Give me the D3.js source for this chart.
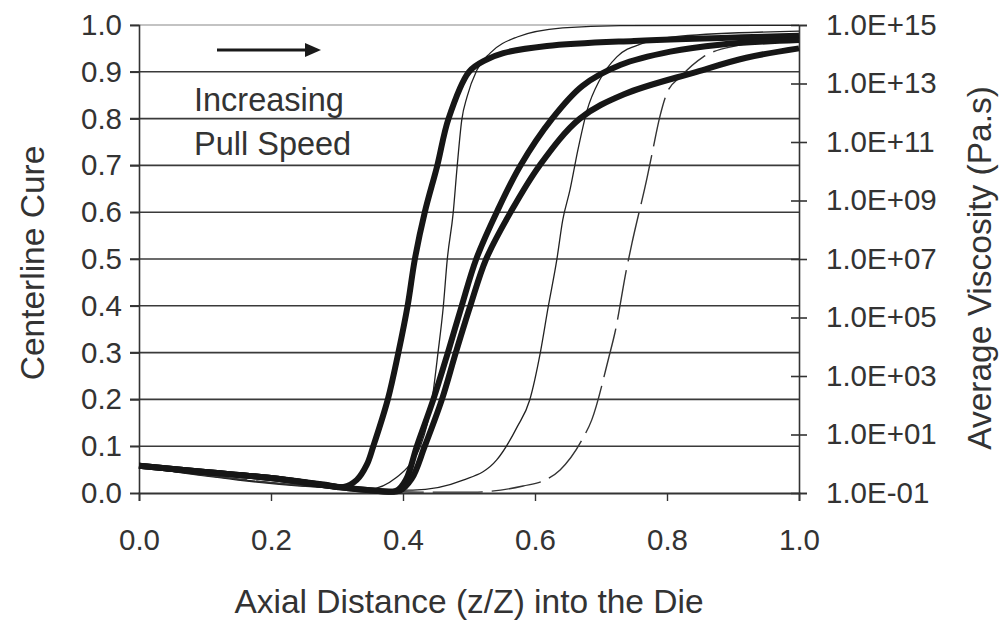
<!DOCTYPE html>
<html><head><meta charset="utf-8">
<script src="https://cdn.jsdelivr.net/npm/d3@7"></script>
<style>
html,body{margin:0;padding:0;background:#fff;}
svg text{font-family:"Liberation Sans",Arial,sans-serif;fill:#333;}
</style></head>
<body><svg id="c" width="1004" height="623"></svg>
<script>
// ---- data ----
const xTicks = [0, 0.2, 0.4, 0.6, 0.8, 1.0];
const cureTicks = [0,0.1,0.2,0.3,0.4,0.5,0.6,0.7,0.8,0.9,1.0];
const viscTicks = [1e-1,1e1,1e3,1e5,1e7,1e9,1e11,1e13,1e15];

// centerline cure (thick) curves: [z/Z, cure]
const cureA = [[0,0.058],[0.1,0.045],[0.2,0.032],[0.28,0.018],[0.31,0.013],[0.33,0.028],[0.345,0.06],[0.355,0.1],[0.377,0.2],[0.393,0.3],[0.407,0.4],[0.418,0.5],[0.433,0.6],[0.452,0.7],[0.469,0.8],[0.5,0.9],[0.525,0.925],[0.552,0.94],[0.618,0.955],[0.75,0.966],[1.0,0.977]];
const cureB = [[0,0.058],[0.1,0.045],[0.2,0.032],[0.3,0.013],[0.35,0.006],[0.39,0.005],[0.405,0.03],[0.421,0.1],[0.446,0.2],[0.468,0.3],[0.489,0.4],[0.511,0.5],[0.542,0.6],[0.578,0.7],[0.626,0.8],[0.672,0.87],[0.73,0.915],[0.805,0.943],[0.88,0.958],[1.0,0.968]];
const cureC = [[0,0.058],[0.1,0.045],[0.2,0.032],[0.3,0.013],[0.35,0.006],[0.395,0.005],[0.413,0.03],[0.433,0.1],[0.459,0.2],[0.48,0.3],[0.502,0.4],[0.526,0.5],[0.563,0.6],[0.607,0.7],[0.668,0.8],[0.735,0.852],[0.845,0.9],[0.92,0.93],[1.0,0.95]];

// average viscosity (thin) curves: [z/Z, log10(Pa.s)]
const viscA = [[0,-0.11],[0.3,-0.83],[0.35,-0.86],[0.391,-0.45],[0.41,-0.04],[0.426,0.57],[0.444,2.18],[0.453,3.79],[0.461,5.36],[0.467,6.97],[0.476,8.57],[0.482,10.15],[0.489,11.75],[0.497,12.54],[0.512,13.46],[0.532,14.04],[0.573,14.59],[0.642,14.9],[0.729,14.98],[1.0,14.99]];
const viscB = [[0,-0.11],[0.3,-0.83],[0.365,-0.9],[0.415,-0.9],[0.491,-0.56],[0.542,0.13],[0.573,1.26],[0.592,2.18],[0.608,3.79],[0.62,5.36],[0.633,6.97],[0.642,8.33],[0.653,9.36],[0.665,10.73],[0.679,12.09],[0.698,13.12],[0.724,13.91],[0.764,14.38],[0.82,14.62],[1.0,14.79]];
const viscC = [[0,-0.11],[0.3,-0.83],[0.426,-0.97],[0.506,-0.97],[0.582,-0.76],[0.615,-0.56],[0.638,-0.21],[0.671,0.81],[0.686,1.5],[0.712,3.65],[0.721,4.47],[0.739,6.69],[0.747,7.55],[0.77,9.8],[0.777,10.56],[0.789,11.85],[0.8,12.68],[0.82,13.22],[0.855,13.91],[0.911,14.32],[1.0,14.56]];

// ---- chart ----
const svg = d3.select("#c");
const L = 139, R = 799, T = 25, B = 493;
const x = d3.scaleLinear().domain([0,1]).range([L,R]);
const y = d3.scaleLinear().domain([0,1]).range([B,T]);
const yv = d3.scaleLog().domain([1e-1,1e15]).range([B,T]);
const FS = 29.5, TFS = 33.5;
const FF = "Liberation Sans, Arial, sans-serif";

// gridlines
svg.append("g").selectAll("line").data(cureTicks.filter(d=>d>0))
  .join("line").attr("x1",L-9).attr("x2",R).attr("y1",d=>y(d)).attr("y2",d=>y(d))
  .attr("stroke",d=>d===1?"#888":"#3a3a3a").attr("stroke-width",d=>d===1?1.2:1.6);

// left axis
const gl = svg.append("g").attr("transform",`translate(${L},0)`)
  .call(d3.axisLeft(y).tickValues(cureTicks).tickFormat(d3.format(".1f")).tickSize(9).tickPadding(8));
gl.select(".domain").attr("stroke","#333").attr("stroke-width",1.6);
gl.selectAll(".tick line").attr("stroke","#333").attr("stroke-width",1.6);
gl.selectAll("text").attr("font-size",FS).style("fill","#333").attr("font-family",FF);

// bottom axis
const gb = svg.append("g").attr("transform",`translate(0,${B})`)
  .call(d3.axisBottom(x).tickValues(xTicks).tickFormat(d3.format(".1f")).tickSize(8).tickPadding(28));
gb.select(".domain").attr("stroke","#333").attr("stroke-width",1.8);
gb.selectAll(".tick line").attr("stroke","#333").attr("stroke-width",1.4);
gb.selectAll("text").attr("font-size",FS).style("fill","#333").attr("font-family",FF);

// right axis (log)
const gr = svg.append("g").attr("transform",`translate(${R},0)`)
  .call(d3.axisRight(yv).tickValues(viscTicks).tickSize(8).tickPadding(19)
    .tickFormat(d=>{const e=Math.round(Math.log10(d));return "1.0E"+(e<0?"-":"+")+String(Math.abs(e)).padStart(2,"0");}));
gr.select(".domain").attr("stroke","#333").attr("stroke-width",1.6);
gr.selectAll(".tick line").attr("x1",-8).attr("stroke","#333").attr("stroke-width",1.6);
gr.selectAll("text").attr("font-size",FS).style("fill","#333").attr("font-family",FF);

// curves
const lineC = d3.line().x(d=>x(d[0])).y(d=>y(d[1])).curve(d3.curveCatmullRom.alpha(0.5));
const lineV = d3.line().x(d=>x(d[0])).y(d=>yv(Math.pow(10,d[1]))).curve(d3.curveMonotoneX);
const plot = svg.append("g");
[viscA, viscB].forEach(s=>plot.append("path").attr("d",lineV(s)).attr("fill","none").attr("stroke","#222").attr("stroke-width",1.3));
plot.append("path").attr("d",lineV(viscC)).attr("fill","none").attr("stroke","#333").attr("stroke-width",1.4).attr("stroke-dasharray","50,9");
[cureA, cureB, cureC].forEach(s=>plot.append("path").attr("d",lineC(s)).attr("fill","none").attr("stroke","#161616").attr("stroke-width",6).attr("stroke-linejoin","round"));

// annotation
svg.append("line").attr("x1",217).attr("x2",308).attr("y1",50).attr("y2",50).attr("stroke","#1a1a1a").attr("stroke-width",3);
svg.append("path").attr("d","M305,43 L321,50 L305,57 Z").attr("fill","#1a1a1a");
svg.append("text").attr("x",194).attr("y",111).attr("font-size",TFS-1).text("Increasing");
svg.append("text").attr("x",194).attr("y",155).attr("font-size",TFS-1).text("Pull Speed");

// axis titles
svg.append("text").attr("transform","translate(44,263) rotate(-90)").attr("text-anchor","middle").attr("font-size",TFS).attr("font-family",FF).text("Centerline Cure");
svg.append("text").attr("transform","translate(991,268) rotate(-90)").attr("text-anchor","middle").attr("font-size",TFS).attr("font-family",FF).text("Average Viscosity (Pa.s)");
svg.append("text").attr("x",469).attr("y",613).attr("text-anchor","middle").attr("font-size",TFS).attr("font-family",FF).text("Axial Distance (z/Z) into the Die");
</script></body></html>
